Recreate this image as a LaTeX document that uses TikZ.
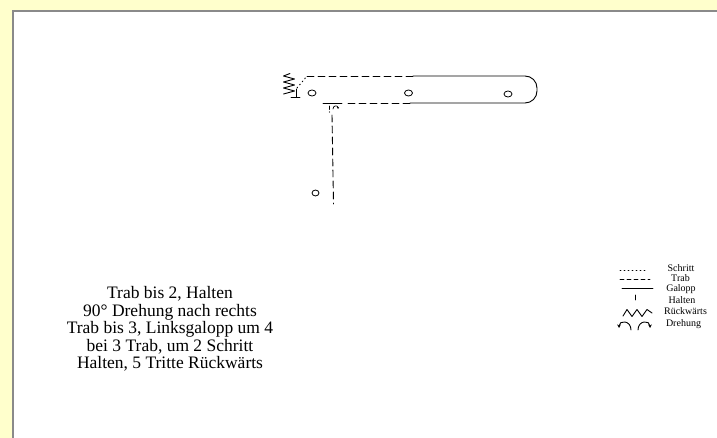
\documentclass[tikz,border=0pt]{standalone}
\usepackage{fontspec}
\setmainfont{Liberation Serif}
\usetikzlibrary{arrows.meta}
\definecolor{bgyellow}{HTML}{FFFFCC}
\definecolor{framegray}{HTML}{8A8A8A}
\begin{document}
\begin{tikzpicture}[x=1pt,y=-1pt,
  trail/.style={line width=0.9pt, line cap=round, line join=round},
  trabline/.style={trail, dash pattern=on 7pt off 4pt},
  schrittline/.style={trail, dash pattern=on 1pt off 3pt},
  spot/.style={line width=0.8pt},
  legtext/.style={font=\fontsize{10}{10}\selectfont, inner sep=0pt, anchor=center},
  maintext/.style={font=\fontsize{17.5}{17.6}\selectfont, align=center, inner sep=0pt}]
\useasboundingbox (0,0) rectangle (717,438);
\fill[bgyellow] (0,0) rectangle (717,438);
\fill[white] (12,10) rectangle (717,438);
\draw[framegray, line width=2.2pt] (13.1,438) -- (13.1,11.1) -- (717,11.1);

% trail coordinates
\coordinate (ds) at (307,76);
\coordinate (tj) at (413,76);
\coordinate (bj) at (410,103);
\coordinate (bs) at (346,103);
\coordinate (gl) at (323,103);
\coordinate (gr) at (342,103);
\coordinate (vt) at (332,115);
\coordinate (vb) at (333.5,204);

% backwards zigzag
\draw[trail] (290,73.5) -- (283.5,76) -- (294.5,79) -- (283.5,82) -- (294.5,85) -- (283.5,88) -- (294.5,91) -- (283.5,94);
\draw[trail] (291,97.5) -- (300,97.5);
\draw[trail] (296,89) -- (296,97.5);
% dotted connection
\draw[schrittline] (297,88) -- (ds);
% trot along the top
\draw[trabline] (ds) -- (tj);
% canter with rounded end
\draw[trail, rounded corners=12pt] (tj) -- (537,76) -- (537,103) -- (bj);
% trot along the bottom
\draw[trabline] (bj) -- (bs);
% halt mark
\draw[trail] (gl) -- (gr);
\draw[trail, line width=0.7pt] (329.5,106) -- (329.5,109.5);
\fill (329.5,112) circle[radius=0.6pt];
\draw[trail, line width=0.7pt, -{Stealth[length=2pt,width=2pt]}] (333,109) .. controls (333,105) and (338,105) .. (338,109);
% trot downwards
\draw[trabline] (vt) -- (vb);

% markers
\draw[spot] (312,93) ellipse[x radius=4pt, y radius=3pt];
\draw[spot] (408.5,93) ellipse[x radius=4pt, y radius=3pt];
\draw[spot] (508,94) ellipse[x radius=4pt, y radius=3pt];
\draw[spot] (315.5,193) ellipse[x radius=3.5pt, y radius=3pt];

% legend
\draw[schrittline, line width=0.8pt] (620,270) -- (645,270);
\draw[trail, line width=0.9pt, dash pattern=on 4pt off 3pt] (620,279) -- (650,279);
\draw[trail, line width=0.9pt] (622,288) -- (653,288);
\draw[trail, line width=0.9pt] (635,295) -- (635,300);
\draw[trail, line width=0.9pt] (623,316) -- (627,309.5) -- (632,316.5) -- (637,309.5) -- (642,316.5) -- (647,309.5) -- (652,313);
\draw[trail, line width=0.9pt, -{Stealth[length=3.5pt,width=3.5pt]}] (631,330) .. controls (631,320) and (619,320) .. (619,328);
\draw[trail, line width=0.9pt, -{Stealth[length=3.5pt,width=3.5pt]}] (638,330) .. controls (638,320) and (650,320) .. (650,328);
\node[legtext] (l1) at (681,268) {Schritt};
\node[legtext] (l2) at (680.5,278.5) {Trab};
\node[legtext] (l3) at (681,289.5) {Galopp};
\node[legtext] (l4) at (682,300) {Halten};
\node[legtext] (l5) at (685.5,311) {Rückwärts};
\node[legtext] (l6) at (683.5,324) {Drehung};

% description
\node[maintext] (desc) at (170,329) {Trab bis 2, Halten\\90° Drehung nach rechts\\Trab bis 3, Linksgalopp um 4\\bei 3 Trab, um 2 Schritt\\Halten, 5 Tritte Rückwärts};
\end{tikzpicture}
\end{document}
